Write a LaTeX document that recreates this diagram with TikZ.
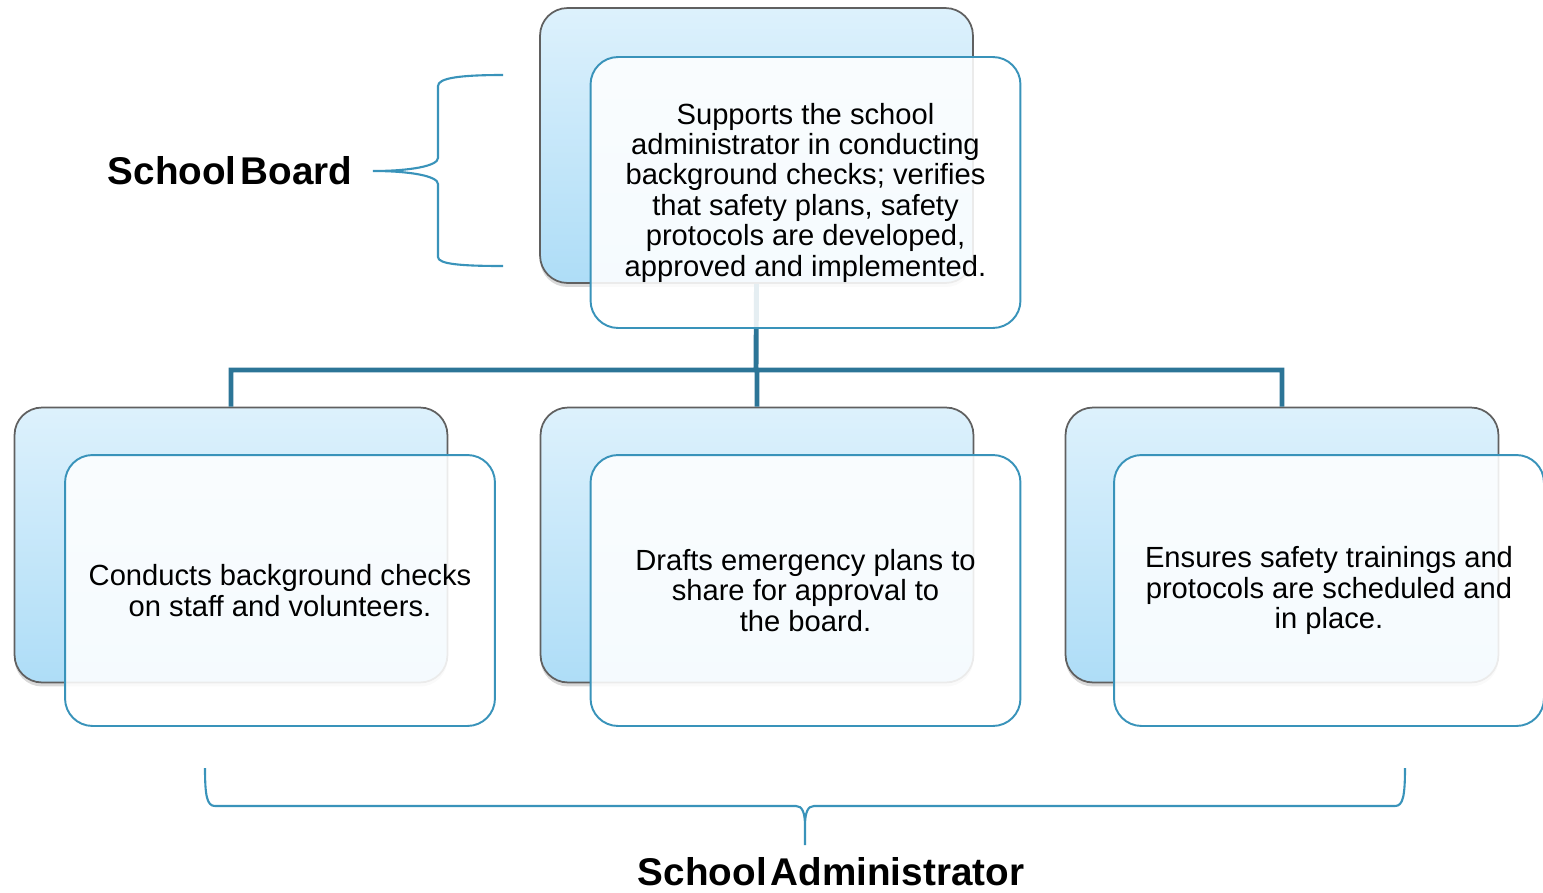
\documentclass[tikz,border=0pt]{standalone}
\usepackage{fontspec}
\setmainfont{Liberation Sans}
\usetikzlibrary{shadows}
\definecolor{linkteal}{HTML}{2C7597}
\definecolor{rimblue}{HTML}{3993BA}
\definecolor{skytop}{HTML}{DDF1FC}
\definecolor{skybot}{HTML}{AEDDF7}
\tikzset{
  backbox/.style={rectangle, rounded corners=.55cm, minimum width=8.66cm, minimum height=5.5cm,
    draw=gray!75!black, line width=1pt, top color=skytop, bottom color=skybot,
    drop shadow={shadow xshift=0pt, shadow yshift=-.08cm, opacity=.3}},
  frontbox/.style={rectangle, rounded corners=.55cm, minimum width=8.6cm, minimum height=5.42cm,
    draw=rimblue, line width=1.1pt, fill=white, fill opacity=.88, text opacity=1,
    align=center, font=\fontsize{16.6}{17.3}\selectfont},
  roletext/.style={font=\fontsize{22}{24}\selectfont\bfseries},
  brace/.style={draw=rimblue, line width=1.2pt},
  link/.style={draw=linkteal, line width=2.8pt}
}
\begin{document}
\begin{tikzpicture}[x=0.02cm,y=-0.02cm]
	\useasboundingbox (0,0) rectangle (1543,893);
	% back cards
	\node[backbox] (boardbg) at (756.5,145.5) {};
	\node[backbox] (checksbg) at (231,545) {};
	\node[backbox] (plansbg) at (757,545) {};
	\node[backbox] (trainbg) at (1282,545) {};
	% tree lines
	\coordinate (fork) at (756,370);
	\draw[link] (boardbg.south) -- (fork) (checksbg.north) |- (fork) -| (trainbg.north)
		(fork) -- (fork -| plansbg.north) -- (plansbg.north);
	% front cards
	\node[frontbox] (board) at (805.5,192.5) {Supports the school\\administrator in conducting\\background checks; verifies\\that safety plans, safety\\protocols are developed,\\approved and implemented.};
	\node[frontbox] (checks) at (280,590.5) {Conducts background checks\\on staff and volunteers.};
	\node[frontbox] (plans) at (805.5,590.5) {Drafts emergency plans to\\share for approval to\\the board.};
	\node[frontbox] (train) at (1329,590.5) {Ensures safety trainings and\\protocols are scheduled and\\in place.};
	% braces
	\draw[brace] (503,75) .. controls (460,75) and (438,78) .. (438,86) -- (438,158)
		.. controls (438,166) and (410,171) .. (373,171)
		.. controls (410,171) and (438,176) .. (438,184) -- (438,257)
		.. controls (438,264) and (460,266) .. (503,266);
	\draw[brace] (205,768) .. controls (205,796) and (207,806) .. (215,806) -- (796,806)
		.. controls (802,806) and (805,812) .. (805,826) -- (805,845) -- (805,826)
		.. controls (805,812) and (808,806) .. (814,806) -- (1395,806)
		.. controls (1403,806) and (1405,796) .. (1405,768);
	\node[roletext] (boardlabel) at (230,171) {School\hspace{.1em}Board};
	\node[roletext] (adminlabel) at (831,872) {School\hspace{.1em}Administrator};
\end{tikzpicture}
\end{document}
